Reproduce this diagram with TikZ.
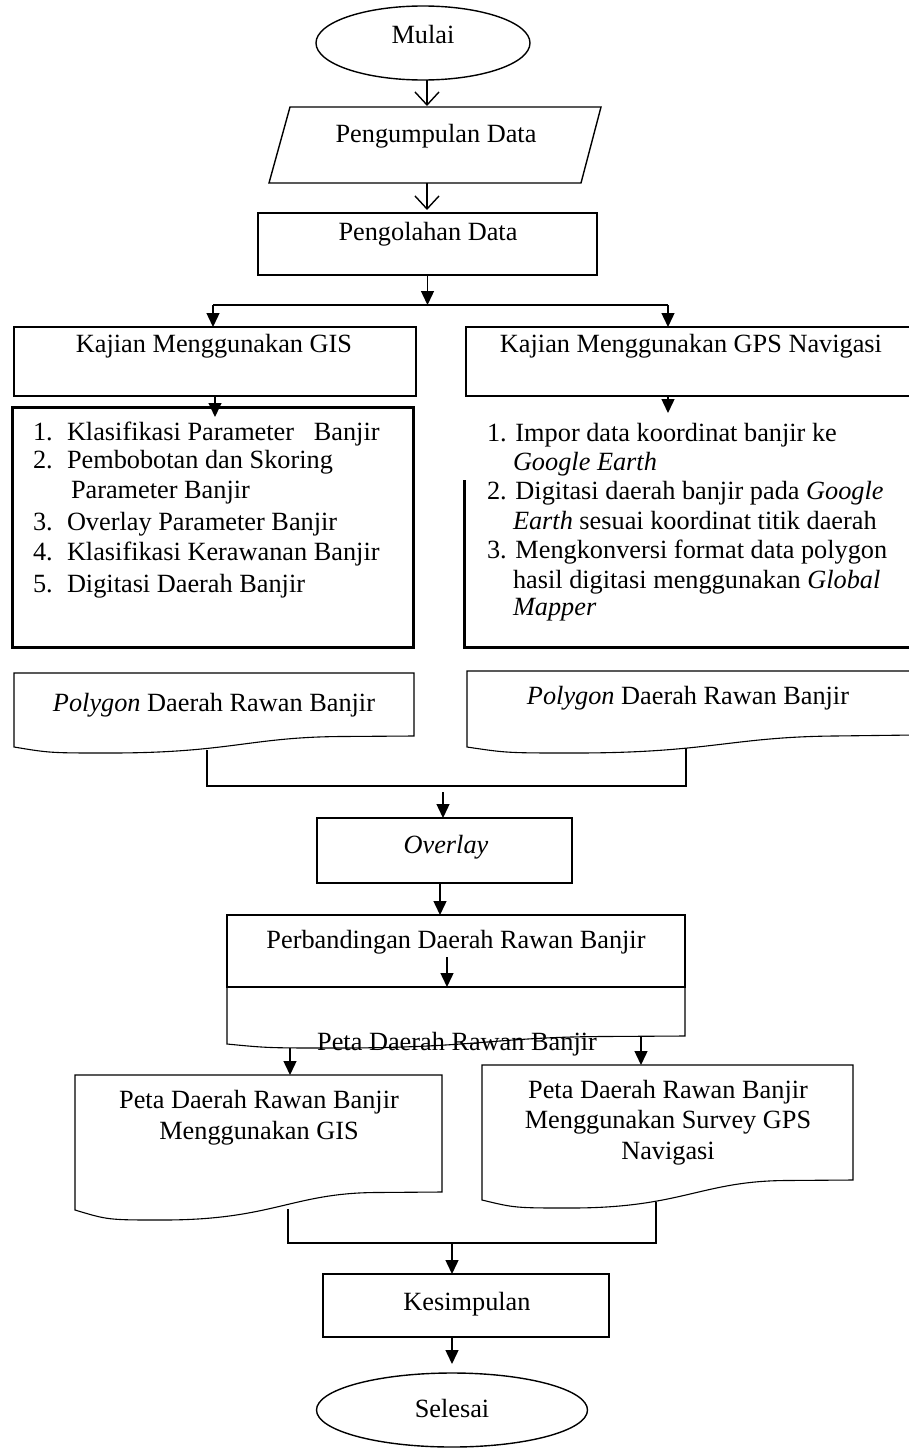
\documentclass[tikz,border=0pt]{standalone}
\usepackage{fontspec}
\setmainfont{Liberation Serif}
\usetikzlibrary{arrows.meta,shapes.geometric}
\begin{document}
\begin{tikzpicture}[x=1pt,y=-1pt,
  txt/.style={inner sep=0pt,outer sep=0pt,anchor=base,font=\fontsize{26.3}{30}\selectfont},
  ltxt/.style={txt,anchor=base west},
  lw/.style={line width=1.4pt},
  lwthin/.style={line width=1.1pt},
  lwthick/.style={line width=3pt},
  boxs/.style={draw,rectangle,inner sep=0pt,outer sep=0pt},
  ells/.style={draw,ellipse,inner sep=0pt,outer sep=0pt,lw},
  openarr/.style={lw,-{Straight Barb[length=13pt,width=24pt]}},
  solidarr/.style={lw,-{Triangle[length=14pt,width=13pt]}}
]
\clip (0,0) rectangle (909,1451);
\fill[white] (0,0) rectangle (909,1451);

% ---------- start ----------
\node[ells,minimum width=214pt,minimum height=74pt] (mulai) at (423,43) {};
\node[txt] (tmulai) at (423,43) {Mulai};

% parallelogram
\coordinate (pA) at (290,107);
\coordinate (pB) at (601,107);
\coordinate (pC) at (581,183);
\coordinate (pD) at (269,183);
\draw[lw] (pA) -- (pB) -- (pC) -- (pD) -- cycle;
\node[txt] (tkumpul) at (436,142) {Pengumpulan Data};
\coordinate (pgtop) at (427,106);
\coordinate (pgbot) at (427,183);

% pengolahan
\node[boxs,lw,minimum width=339pt,minimum height=62pt] (olah) at (427.5,244) {};
\node[txt] (tolah) at (428,240) {Pengolahan Data};

\draw[openarr] (mulai.south -| pgtop) -- (pgtop);
\draw[openarr] (pgbot) -- ([yshift=3pt]pgbot |- olah.north);

% split
\coordinate (split) at (427.5,305);
\coordinate (splitL) at (213,305);
\coordinate (splitR) at (668,305);
\draw[solidarr] (olah.south) -- (split);
\draw[lw] (splitL) -- (splitR);

% kajian boxes
\node[boxs,lw,minimum width=402pt,minimum height=69pt] (gis) at (215,361.5) {};
\node[txt] (tgis) at (214,352) {Kajian Menggunakan GIS};
\node[boxs,lw,minimum width=449pt,minimum height=69pt] (gps) at (690.5,361.5) {};
\node[txt] (tgps) at (691,352) {Kajian Menggunakan GPS Navigasi};
\draw[solidarr] (splitL) -- (splitL |- gis.north);
\draw[solidarr] (splitR) -- (splitR |- gps.north);

% GIS list box
\node[boxs,lwthick,minimum width=401pt,minimum height=240pt] (gislist) at (212.5,527) {};
\coordinate (gisin) at (215,417);
\draw[solidarr] (gisin |- gis.south) -- (gisin);
\node[ltxt] (g1n) at (33,440) {1.};
\node[ltxt] (g1) at (67,440) {Klasifikasi Parameter\hspace{0.75em}Banjir};
\node[ltxt] (g2n) at (33,468) {2.};
\node[ltxt] (g2) at (67,468) {Pembobotan dan Skoring};
\node[ltxt] (g2b) at (71,498) {Parameter Banjir};
\node[ltxt] (g3n) at (33,530) {3.};
\node[ltxt] (g3) at (67,530) {Overlay Parameter Banjir};
\node[ltxt] (g4n) at (33,560) {4.};
\node[ltxt] (g4) at (67,560) {Klasifikasi Kerawanan Banjir};
\node[ltxt] (g5n) at (33,592) {5.};
\node[ltxt] (g5) at (67,592) {Digitasi Daerah Banjir};

% GPS list (open frame)
\coordinate (gpsA) at (464,480);
\coordinate (gpsB) at (464,647);
\coordinate (gpsC) at (915,647);
\draw[lwthick] (gpsA) -- (gpsB) -- (gpsC);
\coordinate (gpsin) at (668,413);
\draw[solidarr] (gpsin |- gps.south) -- (gpsin);
\node[ltxt] (p1) at (487,441) {1. Impor data koordinat banjir ke};
\node[ltxt] (p1b) at (513,470) {\textit{Google Earth}};
\node[ltxt] (p2) at (487,499) {2. Digitasi daerah banjir pada \textit{Google}};
\node[ltxt] (p2b) at (513,529) {\textit{Earth} sesuai koordinat titik daerah};
\node[ltxt] (p3) at (487,558) {3. Mengkonversi format data polygon};
\node[ltxt] (p3b) at (513,588) {hasil digitasi menggunakan \textit{Global}};
\node[ltxt] (p3c) at (513,615) {\textit{Mapper}};

% Polygon documents
\draw[lwthin] (14,673) -- (414,673) -- (414,736) -- (342,736.5)
  .. controls (250,737) and (230,753) .. (110,753)
  .. controls (50,753) .. (14,747) -- cycle;
\node[txt] (tpoly1) at (214,711) {\textit{Polygon} Daerah Rawan Banjir};
\draw[lwthin] (467,671) -- (915,671) -- (915,735) -- (834,736)
  .. controls (731,737) and (709,753) .. (575,753)
  .. controls (507,753) .. (467,747) -- cycle;
\node[txt] (tpoly2) at (688,704) {\textit{Polygon} Daerah Rawan Banjir};
\coordinate (poly1b) at (207,750);
\coordinate (poly2b) at (686,748);
\coordinate (polyj) at (443,792);
\draw[lwthin] (poly1b) -- (207,786) -- (686,786) -- (poly2b);

% overlay
\node[boxs,lwthin,minimum width=255pt,minimum height=65pt] (overlay) at (444.5,850.5) {};
\node[txt] (toverlay) at (446,853) {\textit{Overlay}};
\draw[solidarr] (polyj) -- (polyj |- overlay.north);

% perbandingan
\node[boxs,lwthin,minimum width=458pt,minimum height=72pt] (perb) at (456,951) {};
\node[txt] (tperb) at (456,948) {Perbandingan Daerah Rawan Banjir};
\coordinate (ovout) at (440,883);
\draw[solidarr] (ovout) -- (ovout |- perb.north);
\coordinate (perbin) at (447,957);
\draw[solidarr] (perbin) -- (perbin |- perb.south);

% peta document under perbandingan
\draw[lwthin] (perb.south east) -- (685,1036) -- (603,1036.5)
  .. controls (497,1037) and (474,1048) .. (337,1048)
  .. controls (268,1048) .. (227,1044) -- (perb.south west);
\draw[line width=2.2pt] (perb.south west) -- (perb.south east);
\node[txt] (tpeta) at (457,1050) {Peta Daerah Rawan Banjir};
\coordinate (petaL) at (290,1048);
\coordinate (petaR) at (641,1036);

% result documents
\draw[lwthin] (75,1075) -- (442,1075) -- (442,1192) -- (376,1192.5)
  .. controls (292,1193) and (273,1220) .. (163,1220)
  .. controls (108,1220) .. (75,1210) -- cycle;
\coordinate (docLtop) at (290,1075);
\node[txt] (tdl1) at (259,1108) {Peta Daerah Rawan Banjir};
\node[txt] (tdl2) at (259,1139) {Menggunakan GIS};
\draw[lwthin] (482,1065) -- (853,1065) -- (853,1180) -- (786,1180.5)
  .. controls (701,1181) and (682,1208) .. (571,1208)
  .. controls (515,1208) .. (482,1200) -- cycle;
\coordinate (docRtop) at (641,1065);
\node[txt] (tdr1) at (668,1098) {Peta Daerah Rawan Banjir};
\node[txt] (tdr2) at (668,1128) {Menggunakan Survey GPS};
\node[txt] (tdr3) at (668,1159) {Navigasi};
\draw[solidarr] (petaL) -- (docLtop);
\draw[solidarr] (petaR) -- (docRtop);

\coordinate (docLb) at (288,1209);
\coordinate (docRb) at (656,1202);
\coordinate (join) at (452,1243);
\draw[lwthin] (docLb) -- (288,1243) -- (656,1243) -- (docRb);

% kesimpulan
\node[boxs,lw,minimum width=286pt,minimum height=63pt] (kes) at (466,1305.5) {};
\node[txt] (tkes) at (467,1310) {Kesimpulan};
\draw[solidarr] (join) -- (join |- kes.north);
\coordinate (kesout) at (452,1337);
\coordinate (selin) at (452,1364);
\draw[solidarr] (kesout) -- (selin);

% end
\node[ells,minimum width=271pt,minimum height=74pt] (selesai) at (452,1410) {};
\node[txt] (tsel) at (452,1417) {Selesai};
\end{tikzpicture}
\end{document}
